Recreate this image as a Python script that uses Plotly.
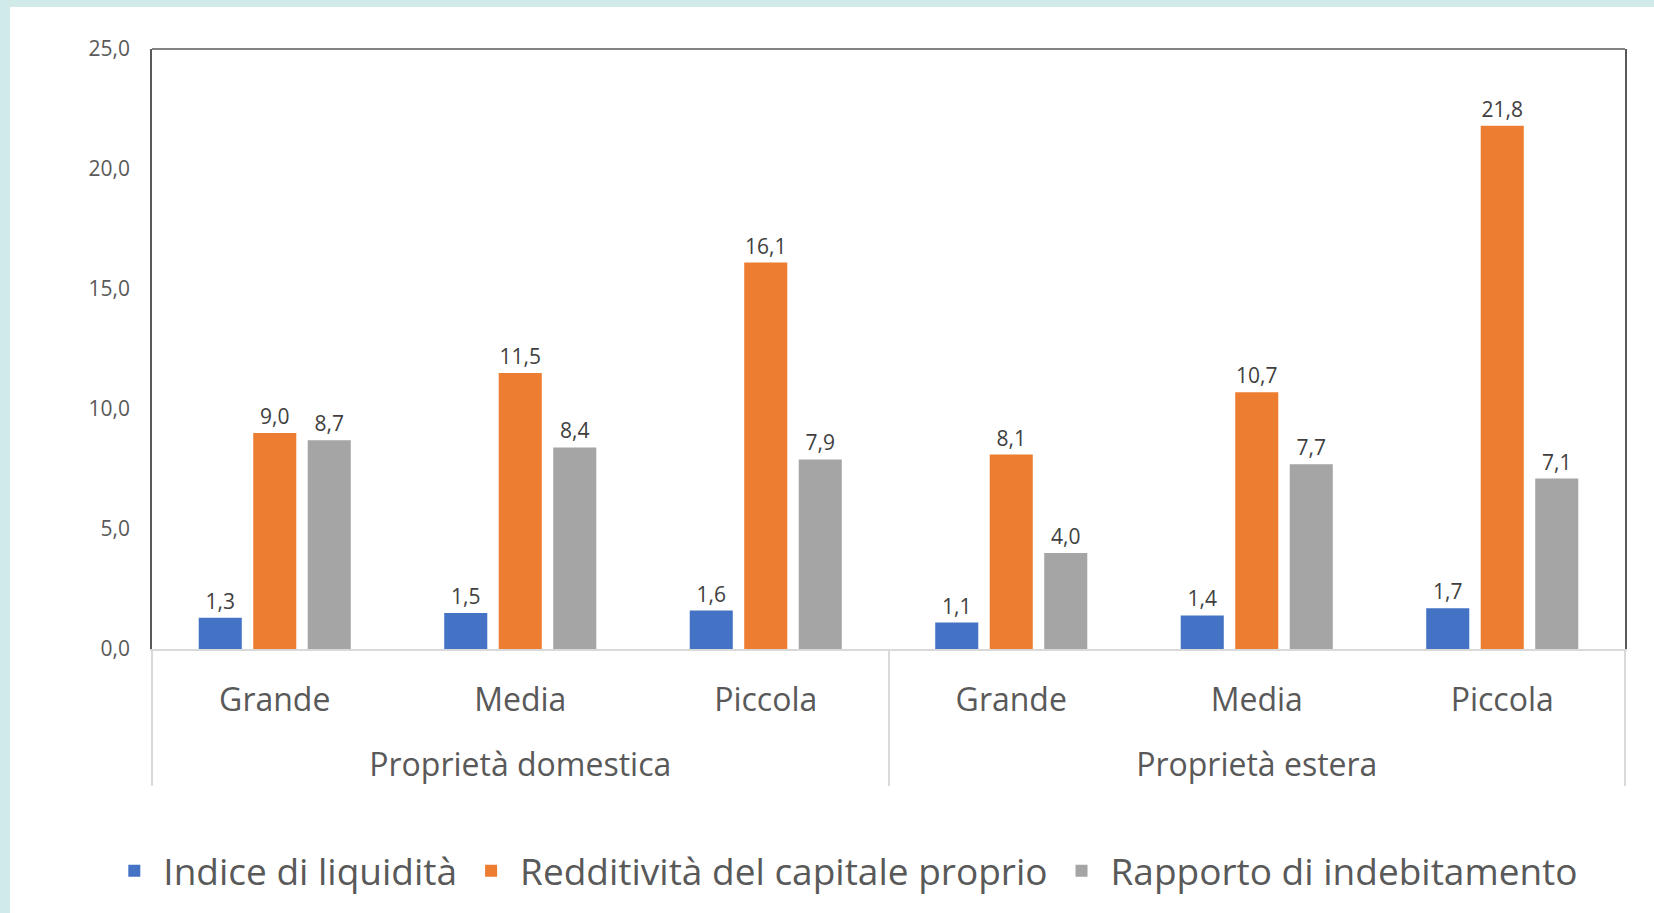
import plotly.graph_objects as go

groups = ["Proprietà domestica"] * 3 + ["Proprietà estera"] * 3
sizes = ["Grande", "Media", "Piccola", "Grande", "Media", "Piccola"]

liquidita = [1.3, 1.5, 1.6, 1.1, 1.4, 1.7]
redditivita = [9.0, 11.5, 16.1, 8.1, 10.7, 21.8]
indebitamento = [8.7, 8.4, 7.9, 4.0, 7.7, 7.1]

series = [
    ("Indice di liquidità", liquidita, "#4472C4"),
    ("Redditività del capitale proprio", redditivita, "#ED7D31"),
    ("Rapporto di indebitamento", indebitamento, "#A5A5A5"),
]

FONT = "Open Sans"
# leading line break pushes the outer category level further below the inner one
group_labels = ["<br>" + g for g in groups]

fig = go.Figure()
for name, vals, col in series:
    fig.add_trace(go.Bar(
        x=[group_labels, sizes], y=vals, name=name,
        marker=dict(color=col, line=dict(width=0)),
        texttemplate="%{y:.1f}", textposition="outside",
        textfont=dict(family=FONT, size=21, color="#404040"),
        cliponaxis=False,
    ))

fig.update_layout(
    width=1654, height=913,
    margin=dict(l=152, r=29, t=49, b=263),
    paper_bgcolor="#cfeae9",
    plot_bgcolor="white",
    separators=",.",
    barmode="group", bargap=0.334, bargroupgap=0.21,
    font=dict(family=FONT, color="#595959"),
    showlegend=True,
    legend=dict(orientation="h", x=0.47, xanchor="center", y=-0.368, yanchor="middle",
                font=dict(family=FONT, size=37, color="#595959"),
                bgcolor="rgba(0,0,0,0)",
                itemwidth=48, traceorder="normal"),
    shapes=[
        dict(type="rect", xref="paper", yref="paper", x0=-0.0964, x1=1.2, y0=-0.7, y1=1.0699,
             fillcolor="white", line=dict(width=0), layer="below"),
        dict(type="line", xref="paper", yref="paper", x0=0, x1=1, y0=1, y1=1,
             line=dict(color="#595959", width=1.5)),
    ],
)
fig.update_xaxes(
    type="multicategory",
    showline=True, linecolor="#D9D9D9", linewidth=2,
    showdividers=True, dividercolor="#D9D9D9", dividerwidth=2,
    ticks="", showgrid=False, ticklabelstandoff=22,
    tickfont=dict(family=FONT, size=32, color="#595959"),
)
fig.update_yaxes(
    range=[0, 25], dtick=5, tickformat=".1f",
    showgrid=False, zeroline=False,
    showline=True, mirror=True, linecolor="#595959", linewidth=1.5,
    ticks="", ticklabelstandoff=16,
    tickfont=dict(family=FONT, size=21, color="#595959"),
)

fig.write_html("out.html", config={"displayModeBar": False},
               post_script="document.body.style.margin='0';")
